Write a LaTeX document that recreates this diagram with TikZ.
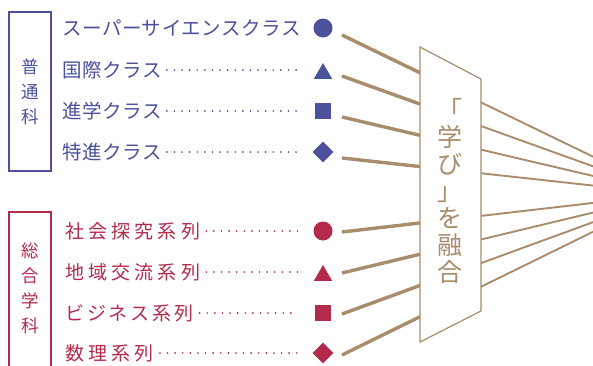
\documentclass[tikz,border=0pt]{standalone}
\usepackage{fontspec}
\setmainfont{Noto Sans CJK JP}
\usetikzlibrary{shapes.geometric,calc}

\definecolor{futsu}{HTML}{4B519A}
\definecolor{sogo}{HTML}{B32A4B}
\definecolor{yugo}{HTML}{A88D6C}

\tikzset{
  futsulbl/.style={anchor=west,inner sep=0pt,text=futsu,
    font=\fontsize{19.5}{19.5}\selectfont\addfontfeatures{LetterSpace=3}},
  sogolbl/.style={anchor=west,inner sep=0pt,text=sogo,
    font=\fontsize{19}{19}\selectfont\addfontfeatures{LetterSpace=#1}},
  sogolbl/.default=22,
  circ/.style={circle,fill=#1,inner sep=0pt,minimum size=19pt},
  tri/.style={regular polygon,regular polygon sides=3,fill=#1,inner sep=0pt,
    minimum size=21pt,yshift=-3.5pt},
  sq/.style={rectangle,fill=#1,inner sep=0pt,minimum size=16pt},
  dia/.style={diamond,fill=#1,inner sep=0pt,minimum size=21pt},
  leader/.style={draw=#1,line width=1.9pt,line cap=round,dash pattern=on 0pt off 7.6pt},
  gakka/.style={draw=#1,line width=1.2pt},
  tate/.style={text=#1,align=center,inner sep=0pt,font=\fontsize{17.5}{25}\selectfont}
}

\begin{document}
\begin{tikzpicture}[x=1pt,y=-1pt]
  \useasboundingbox (0,0) rectangle (593,365);
  \clip (0,0) rectangle (593,365);

  % 普通科
  \draw[gakka=futsu] (9,12) rectangle (51,171);
  \node[tate=futsu] (futsu) at (30,92) {普\\通\\科};
  \node[futsulbl] (lbl1) at (62,28) {スーパーサイエンスクラス};
  \node[futsulbl] (lbl2) at (62,70) {国際クラス};
  \node[futsulbl] (lbl3) at (62,111) {進学クラス};
  \node[futsulbl] (lbl4) at (62,152) {特進クラス};
  \node[circ=futsu] (sym1) at (323,28) {};
  \node[tri=futsu] (sym2) at (323,70) {};
  \node[sq=futsu] (sym3) at (323,111) {};
  \node[dia=futsu] (sym4) at (323,152) {};

  % 総合学科
  \draw[gakka=sogo] (9,212) rectangle (51,380);
  \node[tate=sogo] (sogo) at (30,288) {総\\合\\学\\科};
  \node[sogolbl] (lbl5) at (65,231) {社会探究系列};
  \node[sogolbl] (lbl6) at (65,272) {地域交流系列};
  \node[sogolbl=15] (lbl7) at (65,313) {ビジネス系列};
  \node[sogolbl] (lbl8) at (65,353) {数理系列};
  \node[circ=sogo] (sym5) at (323,231) {};
  \node[tri=sogo] (sym6) at (323,272) {};
  \node[sq=sogo] (sym7) at (323,313) {};
  \node[dia=sogo] (sym8) at (323,353) {};

  \coordinate (dotend) at (303,0);
  \coordinate (dotend2) at (298,0);
  \foreach \i in {2,3,4}
    \draw[leader=futsu] ($(lbl\i.east)+(5,0)$) -- (lbl\i.east -| dotend);
  \foreach \i in {5,6}
    \draw[leader=sogo] ($(lbl\i.east)+(6,0)$) -- (lbl\i.east -| dotend);
  \foreach \i in {7,8}
    \draw[leader=sogo] ($(lbl\i.east)+(6,0)$) -- (lbl\i.east -| dotend2);

  % 融合
  \coordinate (focus) at (670,194);
  \foreach \i/\y in {1/35,2/76,3/117,4/158,5/232,6/273,7/314,8/355} {
    \coordinate (st\i) at (342,\y);
    \draw[yugo,line width=1.9pt] (st\i) -- (focus);
    \draw[yugo,line width=3.4pt] (st\i) -- ($(st\i)!0.238!(focus)$);
  }
  \draw[yugo,line width=1.2pt,fill=white] (420,47) -- (481,79) -- (481,311) -- (420,342) -- cycle;
  \node[text=yugo,align=center,inner sep=0pt,font=\fontsize{25}{27}\selectfont] (yugo) at (450,191)
    {「\\学\\び\\」\\を\\融\\合};
\end{tikzpicture}
\end{document}
